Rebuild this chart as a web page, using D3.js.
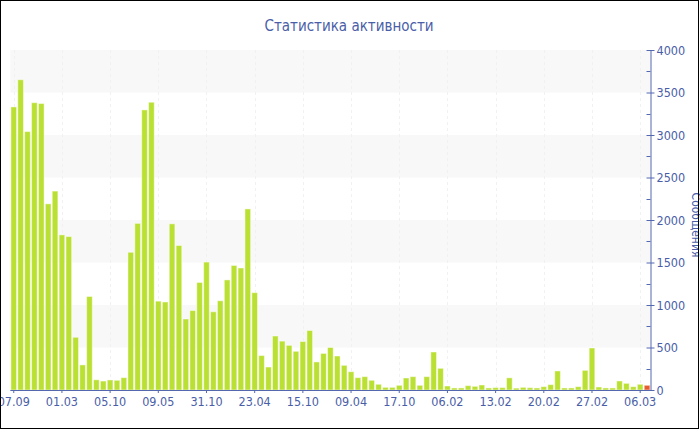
<!DOCTYPE html>
<html>
	<head>
        <title>Статистика активности</title>
		<script src="https://d3js.org/d3.v7.min.js" charset="utf-8"></script>
        <style>
            body { margin: 0; background: #fff; }
            text { font-family: "DejaVu Sans Condensed", "DejaVu Sans", sans-serif; fill: #4a5ea8; }
        </style>
	</head>
	<body>
		<script>
            // сообщения по периодам (последний столбец - текущий период)
            var messages = [3330, 3650, 3040, 3380, 3370, 2190, 2340, 1825, 1805, 620,
                            295, 1100, 120, 105, 118, 114, 145, 1620, 1960, 3295,
                            3385, 1045, 1035, 1955, 1700, 835, 935, 1265, 1505, 920,
                            1050, 1295, 1465, 1435, 2130, 1145, 405, 270, 635, 575,
                            525, 455, 570, 700, 330, 430, 500, 400, 290, 215,
                            145, 157, 114, 67, 31, 31, 55, 141, 157, 55,
                            157, 447, 255, 47, 24, 24, 51, 43, 59, 24,
                            28, 28, 143, 22, 31, 27, 24, 39, 63, 224,
                            24, 24, 39, 231, 494, 35, 24, 24, 106, 78,
                            39, 67, 55];
            var tickLabels = ['07.09', '01.03', '05.10', '09.05', '31.10', '23.04', '15.10',
                              '09.04', '17.10', '06.02', '13.02', '20.02', '27.02', '06.03'];
            var tickEvery = 7;
            var yTicks = [0, 500, 1000, 1500, 2000, 2500, 3000, 3500, 4000];
            var bands = [[500, 1000], [1500, 2000], [2500, 3000], [3500, 4000]];

            var width = 700, height = 430;
            var plotLeft = 10.3, plotRight = 650.5, plotTop = 50, plotBottom = 390;
            var axisColor = '#5468b0';

            var svg = d3.select('body').append('svg').attr('width', width).attr('height', height);

            var x = d3.scaleBand()
                .domain(d3.range(messages.length))
                .range([plotLeft, plotRight])
                .paddingInner(0.18)
                .paddingOuter(0.09);
            var y = d3.scaleLinear().domain([0, 4000]).range([plotBottom, plotTop]);

            // полосы фона
            svg.append('g')
                .selectAll('rect')
                .data(bands)
                .enter().append('rect')
                .attr('x', plotLeft)
                .attr('width', plotRight - plotLeft)
                .attr('y', function (d) { return y(d[1]); })
                .attr('height', function (d) { return y(d[0]) - y(d[1]); })
                .attr('fill', '#f8f8f8');

            var tickIdx = tickLabels.map(function (d, i) { return i * tickEvery; });

            svg.append('g')
                .selectAll('line')
                .data(tickIdx)
                .enter().append('line')
                .attr('x1', function (d) { return Math.round(x(d) + x.bandwidth() / 2) + 0.5; })
                .attr('x2', function (d) { return Math.round(x(d) + x.bandwidth() / 2) + 0.5; })
                .attr('y1', plotTop)
                .attr('y2', plotBottom)
                .attr('stroke', '#f1f1f1')
                .attr('stroke-dasharray', '3,3');

            svg.append('g')
                .selectAll('rect')
                .data(messages)
                .enter().append('rect')
                .attr('x', function (d, i) { return x(i); })
                .attr('width', x.bandwidth())
                .attr('y', function (d) { return y(d); })
                .attr('height', function (d) { return plotBottom - y(d); })
                .attr('fill', function (d, i) { return i == messages.length - 1 ? '#e65c2e' : '#bbe034'; })
                .attr('stroke', 'rgba(255,255,255,0.45)')
                .attr('stroke-width', 1);

            // ось X
            var xAxis = d3.axisBottom(x)
                .tickValues(tickIdx)
                .tickFormat(function (d) { return tickLabels[d / tickEvery]; })
                .tickSize(3)
                .tickPadding(4);
            var gx = svg.append('g').attr('transform', 'translate(0,' + plotBottom + ')').call(xAxis);
            gx.select('.domain').attr('d', 'M' + plotLeft + ',0.5H' + plotRight).attr('stroke', axisColor);
            gx.selectAll('.tick line').attr('stroke', axisColor);
            gx.selectAll('text').style('font-size', '12.5px');

            // ось Y справа
            var minor = d3.range(250, 4000, 500);
            svg.append('g')
                .selectAll('line')
                .data(minor)
                .enter().append('line')
                .attr('x1', plotRight - 4)
                .attr('x2', plotRight)
                .attr('y1', function (d) { return Math.round(y(d)) + 0.5; })
                .attr('y2', function (d) { return Math.round(y(d)) + 0.5; })
                .attr('stroke', axisColor);

            var yAxis = d3.axisRight(y).tickValues(yTicks).tickFormat(d3.format('d')).tickSize(4).tickPadding(2);
            var gy = svg.append('g').attr('transform', 'translate(' + plotRight + ',0)').call(yAxis);
            gy.select('.domain').attr('d', 'M0.5,' + plotTop + 'V' + plotBottom).attr('stroke', axisColor);
            gy.selectAll('.tick line').attr('x1', -4).attr('stroke', axisColor);
            gy.selectAll('text').style('font-size', '12.5px');

            svg.append('text')
                .text('Статистика активности')
                .attr('x', 349)
                .attr('y', 31)
                .attr('text-anchor', 'middle')
                .style('font-size', '15px');

            svg.append('text')
                .text('Сообщения')
                .attr('text-anchor', 'middle')
                .attr('transform', 'translate(692,225) rotate(90)')
                .style('font-size', '12px');

            svg.append('rect')
                .attr('x', 0.5).attr('y', 0.5)
                .attr('width', 698).attr('height', 428)
                .attr('fill', 'none')
                .attr('stroke', '#000');
		</script>
	</body>
</html>
